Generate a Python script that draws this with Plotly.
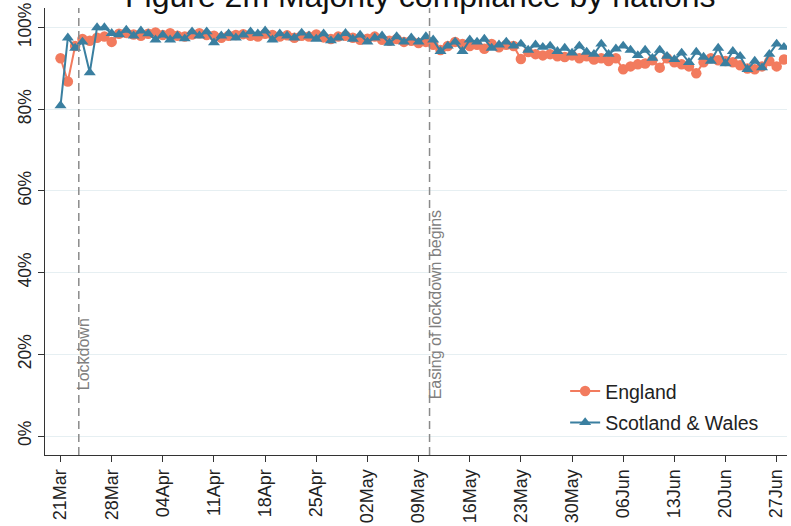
import pandas as pd
import plotly.graph_objects as go

start_date = "2020-03-21"
england = [92.5, 86.8, 95.5, 97.2, 96.8, 97.5, 97.8, 96.5, 98.5, 98.7, 98.3,
           98.0, 98.5, 98.8, 98.2, 98.6, 98.0, 97.8, 98.3, 98.6, 98.2, 98.0,
           97.5, 98.0, 98.2, 98.4, 98.0, 97.8, 98.5, 98.2, 97.8, 98.1, 97.5,
           98.0, 97.8, 98.3, 97.6, 97.2, 97.8, 98.0, 97.5,
           97.0, 97.3, 97.8, 97.0, 96.8, 97.2, 96.5, 96.8, 96.2, 96.5, 95.8,
           94.5, 95.5, 96.5, 96.0, 95.5, 95.8, 94.8, 96.0, 95.2, 95.8, 95.5,
           92.3, 94.0, 93.5, 93.2, 93.5, 93.0, 92.8, 93.2, 92.5,
           93.0, 92.2, 92.5, 91.8, 92.5, 89.8, 90.5, 91.0, 91.2, 92.0, 90.2,
           92.5, 91.5, 91.0, 90.5, 88.8, 91.5, 92.5, 92.0, 91.8, 91.5, 90.8,
           90.0, 89.8, 90.5, 91.8, 90.5, 92.2]
scot_wales = [80.9, 97.5, 95.0, 96.5, 89.0, 100.0, 100.0, 98.6, 98.3, 99.4, 98.0,
              99.2, 98.5, 97.0, 98.2, 97.0, 98.0, 97.3, 99.0, 98.0, 99.0, 96.3,
              98.0, 98.5, 97.5, 98.2, 99.0, 98.5, 99.2, 97.0, 98.5, 98.0, 97.5,
              98.7, 98.0, 97.2, 98.5, 96.8, 97.5, 98.6, 97.2,
              98.2, 96.5, 97.5, 98.0, 96.2, 97.8, 96.5, 97.5, 96.5, 97.8, 97.0,
              94.2, 95.5, 96.5, 94.2, 97.0, 96.5, 97.2, 95.0, 95.8, 96.5, 95.5,
              96.0, 94.5, 95.8, 95.2, 95.5, 94.2, 95.0, 93.8, 95.5,
              94.0, 93.5, 96.0, 93.5, 94.8, 95.5, 94.5, 93.2, 94.5, 92.5, 94.5,
              93.0, 92.2, 93.8, 91.5, 94.0, 92.8, 91.8, 95.0, 91.2, 94.2, 93.0,
              89.8, 91.8, 90.2, 93.5, 96.0, 95.2]
dates = pd.date_range(start_date, periods=len(england), freq="D")

events = ["2020-03-23 12:00", "2020-05-10 12:00"]
event_labels = ["Lockdown", "Easing of lockdown begins"]
event_label_y = [0.141, 0.119]

y_ticks = [0, 20, 40, 60, 80, 100]

ORANGE = "#F27B5E"
BLUE = "#3A7FA0"
FONT = "Liberation Sans, Arial, sans-serif"

fig = go.Figure()
fig.add_trace(go.Scatter(x=dates, y=england, name="England", mode="lines+markers",
                         line=dict(color=ORANGE, width=2),
                         marker=dict(symbol="circle", size=10.5, color=ORANGE),
                         legendgroup="a"))
fig.add_trace(go.Scatter(x=dates, y=scot_wales, name="Scotland & Wales", mode="lines+markers",
                         line=dict(color=BLUE, width=2),
                         marker=dict(symbol="triangle-up", size=10.5, color=BLUE),
                         legendgroup="b"))

for d, lab, ly in zip(events, event_labels, event_label_y):
    fig.add_shape(type="line", xref="x", yref="paper", x0=d, x1=d, y0=0, y1=1,
                  line=dict(color="#8a8a8a", width=1.5, dash="8px,5px"))
    fig.add_annotation(x=d, xref="x", y=ly, yref="paper", text=lab, textangle=-90,
                       showarrow=False, xanchor="left", xshift=-5,
                       font=dict(family=FONT, size=16, color="#7f7f7f"))

fig.add_annotation(x=0.5, xref="paper", y=1, yref="paper", yanchor="bottom",
                   text="Figure 2m Majority compliance by nations", showarrow=False,
                   yshift=-8, xshift=4,
                   font=dict(family=FONT, size=32, color="#111111"))

fig.update_layout(
    width=791, height=526,
    margin=dict(l=45, r=4, t=8, b=71, autoexpand=False),
    paper_bgcolor="white", plot_bgcolor="white",
    font=dict(family=FONT, size=17, color="#222222"),
    legend=dict(x=0.701, y=0.186, xanchor="left", yanchor="top",
                font=dict(size=19.5, color="#222222"), tracegroupgap=3,
                bgcolor="rgba(0,0,0,0)"),
    showlegend=True,
)
fig.update_xaxes(
    type="date", range=["2020-03-18 21:00", "2020-06-28 10:00"],
    tick0=start_date, dtick=7 * 86400000, tickformat="%d%b", tickangle=-90,
    ticks="outside", ticklen=6, tickcolor="#333", showline=True, linecolor="#333",
    linewidth=1, showgrid=False, zeroline=False, tickfont=dict(size=18),
    automargin=False,
)
fig.update_yaxes(
    range=[-4.65, 104.8], tickvals=y_ticks, ticktext=[f"{v}%" for v in y_ticks],
    tickangle=-90, ticks="outside", ticklen=6, tickcolor="#333", showline=True,
    linecolor="#333", linewidth=1, showgrid=True, gridcolor="#e6eff2", gridwidth=1,
    zeroline=False, tickfont=dict(size=17.5), automargin=False,
)

fig.write_html("out.html", config={"displayModeBar": False},
               post_script="document.body.style.margin='0';document.body.style.overflow='hidden';")
